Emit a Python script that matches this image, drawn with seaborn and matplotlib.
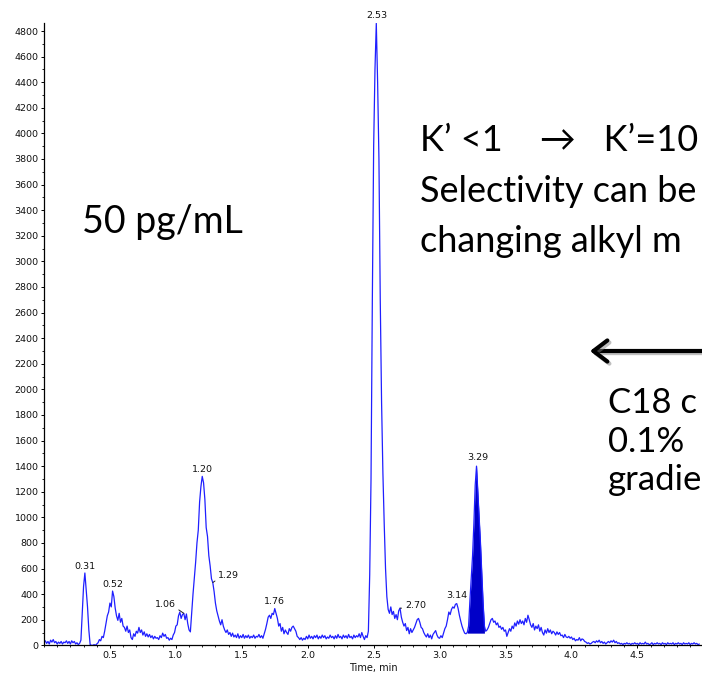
import numpy as np
import pandas as pd
import matplotlib
matplotlib.use("Agg")
import matplotlib.pyplot as plt
import matplotlib.patheffects as pe
from matplotlib.ticker import MultipleLocator
import seaborn as sns

# ---------------- data ----------------
SAMPLE_INTERVAL_MIN = 0.01   # detector sampling step, minutes

# intensity (cps) sampled every 0.01 min from 0.00 to 4.97 min (10 values per row = 0.1 min)
intensity = [
    20, 35, 15, 30, 10, 40, 25, 45, 20, 30,            # 0.00
    10, 25, 15, 30, 10, 25, 20, 35, 15, 30,            # 0.10
    10, 35, 20, 30, 10, 20, 5, 15, 40, 250,            # 0.20
    460, 565, 430, 300, 120, 5, 0, 0, 5, 0,            # 0.30
    10, 20, 45, 35, 70, 60, 110, 170, 230, 260,        # 0.40
    330, 300, 424, 380, 290, 230, 195, 250, 180, 210,  # 0.50
    150, 140, 110, 150, 100, 120, 60, 45, 90, 70,      # 0.60
    110, 95, 140, 100, 120, 80, 105, 70, 90, 65,       # 0.70
    85, 60, 75, 50, 70, 55, 60, 45, 75, 60,            # 0.80
    95, 70, 85, 55, 60, 40, 55, 45, 80, 100,           # 0.90
    150, 160, 230, 260, 210, 240, 250, 200, 245, 170,  # 1.00
    120, 105, 250, 400, 520, 650, 800, 900, 1120, 1240,  # 1.10
    1320, 1270, 1140, 920, 850, 700, 620, 520, 490, 420,  # 1.20
    330, 270, 230, 190, 160, 200, 150, 120, 100, 120,  # 1.30
    85, 100, 70, 95, 65, 80, 60, 90, 55, 75,           # 1.40
    60, 85, 55, 75, 60, 80, 55, 70, 60, 80,            # 1.50
    55, 70, 65, 85, 60, 75, 55, 90, 125, 170,          # 1.60
    220, 235, 210, 250, 240, 287, 250, 210, 150, 170,  # 1.70
    110, 140, 90, 120, 100, 85, 130, 110, 140, 150,    # 1.80
    130, 110, 70, 60, 45, 60, 40, 55, 45, 70,          # 1.90
    50, 80, 55, 70, 50, 75, 60, 80, 50, 70,            # 2.00
    55, 80, 60, 75, 50, 65, 55, 80, 60, 70,            # 2.10
    50, 75, 55, 85, 60, 70, 50, 80, 60, 75,            # 2.20
    55, 85, 60, 70, 50, 80, 60, 75, 65, 90,            # 2.30
    60, 100, 70, 45, 75, 60, 110, 550, 1300, 2700,     # 2.40
    3900, 4500, 4860, 4400, 3800, 2700, 1900, 1350, 950, 600,  # 2.50
    380, 280, 250, 300, 240, 265, 210, 240, 200, 270,  # 2.60
    290, 220, 180, 150, 170, 115, 140, 90, 130, 100,   # 2.70
    120, 140, 170, 200, 210, 180, 140, 130, 100, 80,   # 2.80
    65, 90, 60, 80, 50, 85, 100, 115, 80, 60,          # 2.90
    55, 75, 60, 95, 130, 150, 200, 260, 240, 280,      # 3.00
    300, 290, 320, 326, 290, 235, 190, 150, 120, 95,   # 3.10
    90, 100, 150, 350, 520, 700, 950, 1250, 1400, 1200,  # 3.20
    1000, 800, 560, 330, 150, 110, 120, 140, 170, 200,  # 3.30
    210, 180, 190, 160, 175, 140, 150, 125, 140, 110,  # 3.40
    120, 70, 100, 130, 110, 150, 130, 175, 150, 190,   # 3.50
    165, 200, 170, 190, 160, 210, 180, 235, 200, 160,  # 3.60
    140, 170, 120, 150, 130, 160, 110, 140, 100, 80,   # 3.70
    120, 95, 130, 100, 120, 90, 110, 100, 80, 105,     # 3.80
    85, 100, 75, 80, 60, 85, 65, 60, 70, 55,           # 3.90
    65, 45, 55, 35, 45, 40, 60, 35, 50, 45,            # 4.00
    30, 25, 15, 20, 10, 15, 25, 30, 20, 35,            # 4.10
    25, 40, 20, 30, 15, 25, 10, 20, 30, 20,            # 4.20
    35, 25, 40, 20, 30, 15, 20, 10, 15, 5,             # 4.30
    15, 10, 20, 10, 15, 5, 15, 10, 20, 10,             # 4.40
    15, 5, 20, 10, 15, 10, 25, 10, 15, 5,              # 4.50
    10, 20, 5, 15, 10, 20, 10, 15, 5, 20,              # 4.60
    10, 15, 5, 20, 10, 15, 10, 20, 5, 15,              # 4.70
    10, 20, 10, 15, 5, 20, 10, 15, 10, 20,             # 4.80
    5, 15, 10, 20, 10, 15, 5, 10,                      # 4.90
]
time_min = np.round(np.arange(len(intensity)) * SAMPLE_INTERVAL_MIN, 2)

# labelled peaks (retention time label, apex time on the trace)
peak_labels = ["0.31", "0.52", "1.06", "1.20", "1.29", "1.76", "2.53", "2.70", "3.14", "3.29"]
peak_times = [0.31, 0.52, 1.06, 1.20, 1.28, 1.75, 2.52, 2.70, 3.13, 3.28]

# integrated (filled) peak window
integ_start, integ_end, integ_base = 3.21, 3.34, 95

y_ticks = list(range(0, 4801, 200))
x_ticks = [0.5, 1.0, 1.5, 2.0, 2.5, 3.0, 3.5, 4.0, 4.5]

slide_note = "50 pg/mL"
slide_lines_top = ["K\u2019 <1    \u2192   K\u2019=10", "Selectivity can be", "changing alkyl m"]
slide_lines_mid = ["C18 c", "0.1%", "gradie"]

# ---------------- figure ----------------
sns.set_style("ticks")
plt.rcParams["font.family"] = ["DejaVu Sans"]

W, H = 702, 674
fig = plt.figure(figsize=(W / 100, H / 100), dpi=100)
ax = fig.add_axes([44 / W, 1 - 645.3 / H, (W - 44) / W, (645.3 - 22.7) / H])

df = pd.DataFrame({"time": time_min, "intensity": intensity})
trace_color = "#1f1fff"
sns.lineplot(data=df, x="time", y="intensity", ax=ax, color=trace_color,
             lw=0.9, estimator=None, sort=False)

mask = (df["time"] >= integ_start - 1e-9) & (df["time"] <= integ_end + 1e-9)
ax.fill_between(df["time"], df["intensity"], integ_base, where=mask,
                color="#0000c8", lw=0, interpolate=False)

ax.set_xlim(0, 4.99)
ax.set_ylim(0, 4865)
ax.set_yticks(y_ticks)
ax.set_yticklabels([str(v) for v in y_ticks])
ax.set_xticks(x_ticks)
ax.set_xticklabels([f"{v:.1f}" for v in x_ticks])
ax.yaxis.set_minor_locator(MultipleLocator(100))
ax.xaxis.set_minor_locator(MultipleLocator(0.1))
ax.tick_params(which="major", direction="out", length=2.5, width=0.7,
               labelsize=6.8, pad=1.5, color="black", labelcolor="#111111")
ax.tick_params(which="minor", direction="out", length=1.5, width=0.6, color="black")
for s in ["top", "right"]:
    ax.spines[s].set_visible(False)
for s in ["left", "bottom"]:
    ax.spines[s].set_linewidth(0.9)
    ax.spines[s].set_color("black")
ax.set_ylabel("")
ax.set_xlabel("Time, min", fontsize=7, labelpad=2.5, color="#111111")

# peak labels
offsets = {  # text offset in points, leader relpos (None = no leader)
    "0.31": ((0, 5.0), None),
    "0.52": ((0, 5.0), None),
    "1.06": ((-13.5, 6.0), (1.0, 0.2)),
    "1.20": ((0, 5.3), None),
    "1.29": ((11.5, 4.8), (0.0, 0.2)),
    "1.76": ((0, 5.0), None),
    "2.53": ((0.7, 5.8), None),
    "2.70": ((11.0, 2.0), (0.0, 0.2)),
    "3.14": ((0, 5.5), None),
    "3.29": ((0.7, 6.5), None),
}
lookup = dict(zip(time_min, intensity))
for lab, t in zip(peak_labels, peak_times):
    yv = lookup[round(t, 2)]
    off, rel = offsets[lab]
    kw = {}
    if rel is not None:
        kw["arrowprops"] = dict(arrowstyle="-", lw=0.7, color="#222222",
                                shrinkA=0, shrinkB=0, relpos=rel)
    ax.annotate(lab, xy=(t, yv), xytext=off, textcoords="offset points",
                ha="center", va="center", fontsize=6.8, color="#111111", **kw)

# slide texts (Calibri-like)
slide_font = ["Lato", "DejaVu Sans"]
fs = 26
fig.text(82 / W, 1 - 233 / H, slide_note, fontsize=fs + 1, family=slide_font,
         va="baseline", ha="left", color="black")
for i, line in enumerate(slide_lines_top):
    fig.text(420 / W, 1 - (151 + 50.5 * i) / H, line, fontsize=fs, family=slide_font,
             va="baseline", ha="left", color="black")
for i, line in enumerate(slide_lines_mid):
    fig.text(608 / W, 1 - (413 + 38.5 * i) / H, line, fontsize=fs - 1, family=slide_font,
             va="baseline", ha="left", color="black")

# arrow pointing left
ax.annotate("", xy=(590 / W, 1 - 351 / H), xycoords="figure fraction",
            xytext=(1.02, 1 - 351 / H), textcoords="figure fraction",
            arrowprops=dict(arrowstyle="->,head_length=0.5,head_width=0.38",
                            mutation_scale=20, lw=3, color="black",
                            shrinkA=0, shrinkB=0,
                            path_effects=[pe.SimpleLineShadow(offset=(1.5, -1.5),
                                                              shadow_color="gray", alpha=0.5),
                                          pe.Normal()]),
            annotation_clip=False)

fig.savefig("out.png", dpi=100)
